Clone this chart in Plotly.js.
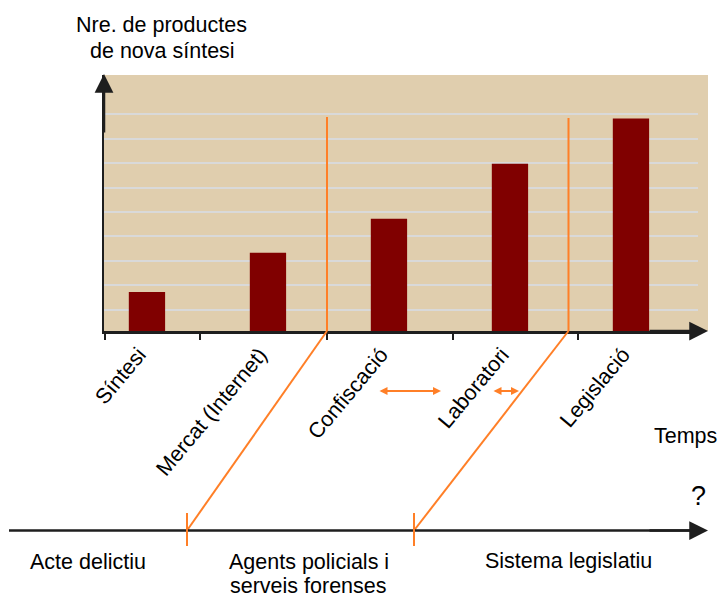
<!DOCTYPE html>
<html>
<head>
<meta charset="utf-8">
<script src="https://cdn.plot.ly/plotly-3.0.1.min.js"></script>
<style>html,body{margin:0;padding:0;background:#fff;}#chart{width:718px;height:598px;}</style>
</head>
<body>
<div id="chart"></div>
<script>
// ---- data ----
const categories = ['Síntesi', 'Mercat (Internet)', 'Confiscació', 'Laboratori', 'Legislació'];
const values = [1.6, 3.2, 4.6, 6.85, 8.7];
const yAxisTitleLines = ['Nre. de productes', 'de nova síntesi'];
const xAxisTitle = 'Temps';
const phaseLabels = ['Acte delictiu', 'Agents policials i', 'serveis forenses', 'Sistema legislatiu'];
const unknownMark = '?';

// ---- layout helpers (pixel -> paper) ----
const L = 104, R = 698, T = 75, B = 331;
const W = 718, H = 598;
const X = px => (px - L) / (R - L);
const Y = py => (B - py) / (B - T);

const FONT = 'Liberation Sans, Arial, sans-serif';
const ORANGE = '#ff7f27';
const DARK = '#1e1e1e';
const BEIGE = '#e0ceae';

const shapes = [];
function line(x0, y0, x1, y1, color, width) {
  shapes.push({type: 'line', xref: 'paper', yref: 'paper',
    x0: X(x0), y0: Y(y0), x1: X(x1), y1: Y(y1),
    line: {color: color, width: width}});
}
// beige extension to the right of the grid
shapes.push({type: 'rect', xref: 'paper', yref: 'paper', layer: 'below',
  x0: X(697), x1: X(708), y0: 0, y1: 1, fillcolor: BEIGE, line: {width: 0}});
// x-axis tick marks
[105, 200, 327, 453, 578].forEach(px => line(px, 331, px, 340, DARK, 2));
// orange vertical lines
line(327, 117, 327, 331, ORANGE, 2);
line(568.5, 118, 568.5, 331, ORANGE, 2);
// orange diagonals
line(327, 331, 187, 530.5, ORANGE, 2);
line(568.5, 331, 414, 530.5, ORANGE, 2);
// bottom timeline
line(9, 530.5, 698, 530.5, DARK, 2.5);
// orange ticks on timeline
line(187, 513, 187, 546, ORANGE, 2);
line(414, 513, 414, 546, ORANGE, 2);

const annotations = [];
function arrow(x, y, ax, ay, color, width, size, side) {
  annotations.push({xref: 'paper', yref: 'paper', x: X(x), y: Y(y),
    ax: ax, ay: ay, axref: 'pixel', ayref: 'pixel', text: '',
    showarrow: true, arrowhead: 2, startarrowhead: 2, arrowside: side || 'end',
    arrowcolor: color, arrowwidth: width, arrowsize: size, startarrowsize: size,
    standoff: 0, startstandoff: 0});
}
function label(text, x, y, size) {
  annotations.push({xref: 'paper', yref: 'paper', x: X(x), y: Y(y),
    text: text, showarrow: false, xanchor: 'center', yanchor: 'middle',
    font: {family: FONT, size: size || 21.5, color: '#000'}});
}
// axis arrows
arrow(708, 331, -60, 0, DARK, 2.5, 1.5);
arrow(104, 74, 0, 60, DARK, 2.5, 1.5);
arrow(708, 530.5, -60, 0, DARK, 2.5, 1.5);
// orange double arrows
arrow(441, 391, -63, 0, ORANGE, 2, 0.8, 'end+start');
arrow(519, 391, -27, 0, ORANGE, 2, 0.8, 'end+start');
// texts
label(yAxisTitleLines[0], 161, 24.5);
label(yAxisTitleLines[1], 162.5, 50.5);
label(xAxisTitle, 685, 435.5);
label(unknownMark, 698, 495.5, 27);
label(phaseLabels[0], 87.5, 561.5);
label(phaseLabels[1], 309, 562);
label(phaseLabels[2], 308, 585.5);
label(phaseLabels[3], 568.5, 560.5);

const gridVals = [];
for (let k = 0; k < 9; k++) gridVals.push(0.872 + k);

const trace = {
  type: 'bar', x: categories, y: values,
  marker: {color: '#800000', line: {width: 0}},
  hoverinfo: 'skip'
};

const layout = {
  width: W, height: H,
  margin: {l: L, r: W - R, t: T, b: H - B, pad: 0},
  paper_bgcolor: '#ffffff', plot_bgcolor: BEIGE,
  showlegend: false, bargap: 0.7,
  font: {family: FONT, color: '#000'},
  xaxis: {type: 'category', range: [-0.355, 4.554], showgrid: false, zeroline: false,
    showline: true, linecolor: DARK, linewidth: 2.5, ticks: '',
    tickangle: -50, ticklabelshift: -8,
    tickfont: {family: FONT, size: 21.5, color: '#000'}},
  yaxis: {range: [0, 10.48], tickmode: 'array', tickvals: gridVals,
    showticklabels: false, ticks: '', showgrid: true, gridcolor: '#d9d9d9', gridwidth: 2,
    zeroline: false, showline: true, linecolor: DARK, linewidth: 2.5},
  shapes: shapes, annotations: annotations
};

Plotly.newPlot('chart', [trace], layout, {staticPlot: true, displayModeBar: false});
</script>
</body>
</html>
